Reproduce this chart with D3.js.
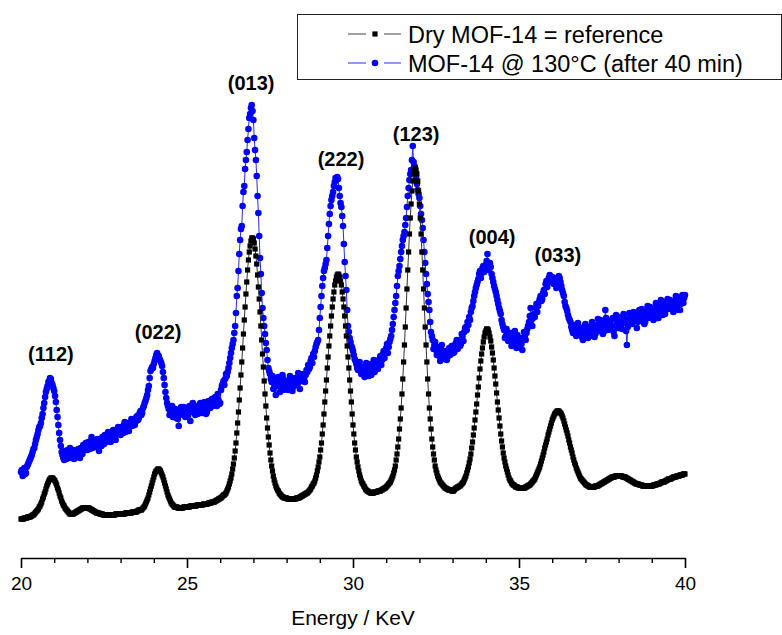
<!DOCTYPE html>
<html>
<head>
<meta charset="utf-8">
<script src="https://cdn.jsdelivr.net/npm/d3@7"></script>
<style>
  body { margin: 0; background: #fff; }
  svg { display: block; }
  text { font-family: "Liberation Sans", Arial, sans-serif; }
</style>
</head>
<body>
<div id="chart"></div>
<script>
// Energy grid of both scans (keV): one reading every 0.025 keV from 20 to 40
var energyStart = 20;
var energyStep = 0.025;

// Dry MOF-14 (reference), intensity a.u., 20 readings per row = 0.5 keV
var dryMof14 = [
  39, 39, 39, 39, 40, 40, 40, 40, 41, 41, 41, 41, 42, 42, 43, 43, 44, 45, 46, 47,
  48, 49, 51, 52, 54, 56, 59, 61, 64, 66, 69, 72, 74, 76, 78, 79, 80, 80, 80, 79,
  78, 77, 75, 73, 70, 68, 65, 62, 60, 57, 55, 53, 52, 50, 49, 48, 47, 46, 45, 44,
  44, 44, 44, 44, 45, 45, 46, 46, 47, 47, 48, 48, 49, 49, 50, 50, 50, 50, 50, 50,
  50, 50, 50, 49, 49, 48, 48, 47, 47, 46, 46, 45, 45, 45, 45, 44, 44, 44, 44, 43,
  43, 43, 43, 43, 43, 43, 43, 43, 43, 43, 43, 43, 43, 43, 44, 44, 44, 44, 44, 44,
  44, 44, 44, 44, 44, 44, 45, 45, 45, 45, 45, 45, 45, 45, 46, 46, 46, 46, 46, 46,
  47, 47, 48, 48, 48, 48, 49, 50, 51, 52, 54, 56, 58, 60, 63, 66, 69, 72, 75, 78,
  81, 84, 86, 87, 88, 89, 89, 88, 87, 85, 83, 81, 78, 75, 72, 69, 66, 63, 61, 59,
  57, 55, 54, 53, 52, 51, 51, 51, 51, 50, 50, 50, 50, 50, 50, 50, 51, 51, 51, 51,
  51, 51, 51, 51, 52, 52, 52, 52, 52, 52, 52, 52, 53, 53, 53, 53, 53, 53, 53, 53,
  54, 54, 54, 54, 54, 54, 55, 55, 55, 55, 56, 56, 56, 56, 57, 57, 58, 58, 59, 59,
  60, 60, 61, 62, 63, 63, 64, 65, 67, 69, 71, 74, 77, 80, 84, 89, 94, 100, 107, 115,
  125, 135, 146, 158, 170, 183, 196, 210, 224, 238, 251, 264, 276, 288, 298, 306, 312, 317, 320, 320,
  319, 315, 309, 302, 294, 283, 271, 259, 246, 232, 218, 204, 191, 177, 164, 152, 140, 130, 121, 113,
  105, 98, 92, 87, 82, 78, 75, 72, 70, 68, 67, 65, 64, 63, 62, 61, 61, 60, 60, 60,
  60, 59, 59, 59, 59, 59, 59, 59, 59, 59, 59, 59, 60, 60, 60, 60, 61, 61, 62, 62,
  63, 63, 64, 64, 65, 65, 66, 67, 68, 69, 71, 72, 74, 75, 77, 80, 83, 87, 91, 96,
  101, 108, 115, 124, 133, 144, 156, 167, 178, 190, 201, 212, 222, 232, 242, 251, 259, 266, 273, 277,
  281, 283, 284, 283, 281, 277, 273, 266, 259, 251, 242, 232, 222, 212, 201, 190, 178, 167, 156, 144,
  133, 124, 115, 108, 101, 96, 91, 87, 83, 80, 77, 75, 74, 72, 71, 69, 68, 67, 67, 66,
  66, 65, 65, 65, 65, 65, 66, 66, 66, 66, 67, 67, 67, 67, 68, 68, 69, 69, 70, 70,
  71, 72, 73, 74, 75, 76, 78, 80, 82, 85, 88, 92, 98, 104, 111, 119, 129, 139, 150, 164,
  179, 196, 213, 231, 250, 269, 288, 306, 324, 340, 354, 367, 377, 384, 388, 390, 388, 384, 377, 367,
  354, 340, 324, 306, 288, 269, 250, 231, 213, 196, 179, 164, 150, 139, 129, 119, 111, 104, 98, 92,
  88, 85, 82, 80, 78, 76, 75, 74, 73, 72, 71, 70, 70, 69, 69, 68, 68, 68, 68, 67,
  67, 67, 68, 69, 70, 70, 71, 71, 72, 72, 73, 74, 75, 76, 78, 80, 82, 85, 88, 91,
  95, 99, 104, 110, 116, 123, 130, 138, 146, 154, 163, 171, 180, 189, 197, 204, 210, 216, 221, 225,
  227, 229, 229, 228, 225, 221, 217, 211, 205, 198, 190, 182, 174, 165, 156, 148, 140, 132, 124, 117,
  111, 105, 100, 96, 92, 89, 86, 83, 80, 78, 77, 75, 74, 73, 73, 72, 71, 71, 71, 70,
  70, 70, 70, 70, 70, 70, 70, 70, 71, 71, 72, 72, 73, 73, 74, 75, 76, 77, 78, 79,
  81, 83, 85, 87, 89, 91, 94, 97, 100, 103, 106, 110, 113, 116, 119, 123, 126, 129, 132, 135,
  138, 140, 142, 144, 145, 146, 147, 147, 147, 146, 145, 144, 142, 140, 137, 134, 131, 128, 125, 122,
  118, 115, 111, 108, 105, 101, 98, 95, 93, 90, 88, 86, 84, 82, 80, 79, 78, 77, 76, 75,
  74, 73, 73, 72, 72, 71, 71, 71, 71, 71, 71, 71, 72, 72, 72, 72, 73, 73, 74, 74,
  75, 75, 76, 76, 77, 77, 78, 78, 79, 79, 80, 80, 81, 81, 81, 81, 82, 82, 82, 82,
  82, 82, 82, 82, 82, 81, 81, 81, 81, 80, 80, 79, 79, 78, 78, 77, 77, 76, 76, 75,
  75, 74, 74, 74, 74, 73, 73, 73, 73, 72, 72, 72, 72, 72, 72, 72, 72, 72, 72, 72,
  72, 72, 73, 73, 73, 73, 74, 74, 74, 74, 75, 75, 76, 76, 76, 76, 77, 77, 78, 78,
  79, 79, 79, 79, 80, 80, 81, 81, 81, 81, 82, 82, 82, 82, 83, 83, 83, 83, 84, 84,
  84
];

// MOF-14 at 130 °C after 40 min, same grid
var mof14At130 = [
  86, 88, 82, 87, 90, 84, 85, 91, 93, 95, 97, 99, 101, 103, 106, 109, 110, 114, 118, 121,
  124, 128, 131, 132, 135, 140, 144, 150, 155, 161, 166, 169, 172, 176, 177, 180, 179, 175, 173, 170,
  167, 162, 156, 148, 141, 133, 125, 118, 112, 106, 103, 100, 98, 107, 104, 99, 108, 103, 101, 110,
  106, 100, 103, 108, 99, 104, 107, 101, 102, 109, 105, 100, 110, 107, 104, 113, 112, 108, 115, 111,
  108, 116, 113, 109, 117, 121, 110, 114, 116, 111, 112, 118, 119, 113, 107, 117, 115, 112, 121, 118,
  114, 123, 120, 116, 118, 126, 124, 119, 116, 121, 122, 128, 127, 121, 118, 124, 125, 131, 130, 126,
  123, 131, 128, 125, 133, 136, 126, 130, 131, 135, 127, 133, 135, 139, 132, 137, 138, 133, 136, 141,
  142, 138, 140, 145, 147, 143, 145, 150, 152, 155, 157, 160, 163, 168, 172, 180, 187, 189, 191, 190,
  194, 197, 200, 203, 205, 201, 202, 199, 197, 195, 192, 186, 180, 173, 166, 160, 155, 152, 149, 143,
  146, 150, 152, 141, 143, 147, 149, 140, 145, 139, 132, 143, 148, 151, 144, 147, 151, 146, 141, 149,
  150, 143, 146, 152, 137, 146, 149, 155, 153, 145, 143, 150, 150, 144, 147, 153, 155, 149, 145, 152,
  151, 156, 148, 144, 146, 153, 157, 150, 150, 156, 159, 152, 153, 160, 161, 155, 152, 164, 158, 154,
  155, 168, 172, 174, 177, 173, 179, 184, 182, 186, 190, 195, 200, 205, 210, 214, 218, 225, 232, 245,
  262, 270, 287, 304, 318, 329, 332, 352, 366, 372, 389, 398, 406, 418, 429, 440, 444, 450, 453, 447,
  438, 420, 408, 398, 382, 362, 345, 322, 300, 284, 265, 250, 240, 232, 224, 215, 208, 198, 190, 187,
  184, 179, 176, 182, 169, 174, 178, 163, 172, 177, 181, 173, 166, 171, 175, 183, 179, 168, 170, 176,
  177, 172, 168, 175, 182, 178, 174, 167, 171, 176, 180, 174, 173, 179, 185, 176, 169, 181, 178, 183,
  184, 179, 176, 183, 188, 186, 193, 189, 191, 197, 200, 195, 204, 201, 207, 211, 214, 216, 218, 228,
  240, 251, 262, 272, 280, 287, 290, 294, 298, 310, 322, 334, 344, 352, 358, 362, 366, 372, 376, 380,
  378, 381, 379, 370, 362, 355, 351, 342, 332, 314, 296, 282, 268, 248, 232, 226, 220, 216, 212, 210,
  207, 203, 199, 197, 194, 190, 188, 193, 196, 189, 184, 187, 191, 185, 181, 188, 195, 191, 186, 182,
  190, 194, 183, 187, 192, 198, 186, 190, 197, 193, 189, 195, 199, 202, 193, 198, 204, 207, 200, 205,
  210, 214, 205, 211, 216, 219, 222, 228, 234, 241, 248, 255, 262, 272, 282, 287, 292, 299, 306, 312,
  318, 322, 326, 333, 340, 351, 362, 370, 378, 384, 388, 398, 412, 396, 392, 385, 380, 374, 368, 364,
  360, 352, 344, 338, 330, 318, 306, 295, 284, 274, 264, 256, 248, 236, 226, 222, 218, 209, 213, 216,
  208, 203, 211, 206, 202, 197, 209, 213, 205, 200, 199, 206, 207, 198, 201, 208, 210, 203, 204, 212,
  212, 205, 206, 213, 215, 218, 209, 214, 218, 212, 214, 224, 222, 217, 226, 230, 231, 228, 236, 233,
  241, 238, 246, 250, 252, 257, 262, 266, 270, 273, 276, 279, 284, 287, 280, 285, 290, 292, 286, 289,
  293, 297, 304, 294, 288, 295, 291, 284, 280, 276, 272, 269, 266, 262, 258, 254, 250, 247, 244, 238,
  234, 231, 228, 220, 222, 229, 226, 217, 218, 224, 225, 212, 214, 219, 221, 227, 216, 210, 223, 219,
  212, 216, 220, 214, 208, 218, 226, 221, 218, 225, 229, 232, 236, 242, 250, 238, 232, 240, 244, 241,
  250, 254, 246, 252, 256, 259, 262, 257, 259, 265, 268, 264, 274, 277, 271, 276, 280, 283, 276, 279,
  281, 277, 274, 280, 278, 270, 272, 279, 282, 280, 276, 272, 268, 265, 262, 256, 252, 250, 247, 243,
  240, 238, 236, 231, 228, 225, 233, 229, 226, 222, 231, 235, 224, 227, 230, 226, 221, 218, 228, 232,
  234, 229, 225, 220, 231, 227, 222, 229, 236, 233, 228, 221, 224, 230, 233, 239, 227, 232, 238, 235,
  230, 224, 226, 235, 248, 240, 233, 228, 229, 236, 237, 231, 232, 240, 226, 222, 239, 243, 234, 230,
  241, 236, 233, 238, 229, 235, 244, 240, 236, 227, 213, 231, 238, 245, 243, 237, 234, 241, 246, 240,
  239, 243, 230, 236, 244, 248, 237, 241, 249, 245, 241, 234, 236, 243, 247, 252, 240, 245, 251, 246,
  243, 249, 238, 244, 250, 255, 245, 240, 240, 247, 252, 258, 247, 243, 256, 251, 244, 249, 252, 259,
  249, 254, 258, 250, 251, 255, 246, 252, 257, 262, 253, 248, 261, 256, 248, 254, 258, 263, 255, 260,
  263
];

var seriesNames = ["Dry MOF-14 = reference", "MOF-14 @ 130°C (after 40 min)"];

// Reflection labels (hkl), with the energy / intensity where they sit
var peakLabels = ["(112)", "(022)", "(013)", "(222)", "(123)", "(004)", "(033)"];
var peakEnergy = [20.9, 24.13, 26.93, 29.64, 31.9, 34.19, 36.17];
var peakHeight = [197, 219, 468, 392, 417, 314, 296];

var majorTicks = [20, 25, 30, 35, 40];
var minorTicks = [21, 22, 23, 24, 26, 27, 28, 29, 31, 32, 33, 34, 36, 37, 38, 39];
var axisTitle = "Energy / KeV";

// Dimensions
var widthChart = 782;
var heightChart = 635;

var svgChart = d3
  .select("#chart")
  .append("svg")
  .attr("width", widthChart)
  .attr("height", heightChart);

// Scales
var x = d3.scaleLinear().domain([20, 40]).range([21, 685]);
var y = d3.scaleLinear().domain([0, 500]).range([558, 58]);

function toPoints(values) {
  return values.map(function (v, i) {
    return { e: energyStart + i * energyStep, v: v };
  });
}

var blueData = toPoints(mof14At130);
var blackData = toPoints(dryMof14);

var lineGen = d3
  .line()
  .x(function (d) { return x(d.e); })
  .y(function (d) { return y(d.v); });

// Heated sample: blue line + dots
svgChart
  .append("path")
  .datum(blueData)
  .attr("d", lineGen)
  .attr("fill", "none")
  .attr("stroke", "#2a2aff")
  .attr("stroke-width", 1);

svgChart
  .selectAll("blueDots")
  .data(blueData)
  .enter()
  .append("circle")
  .attr("cx", function (d) { return x(d.e); })
  .attr("cy", function (d) { return y(d.v); })
  .attr("r", 3.3)
  .attr("fill", "#0000ff");

// Dry reference: dark line + square markers (drawn on top)
svgChart
  .append("path")
  .datum(blackData)
  .attr("d", lineGen)
  .attr("fill", "none")
  .attr("stroke", "#333")
  .attr("stroke-width", 1);

svgChart
  .selectAll("blackSquares")
  .data(blackData)
  .enter()
  .append("rect")
  .attr("x", function (d) { return x(d.e) - 2.6; })
  .attr("y", function (d) { return y(d.v) - 2.6; })
  .attr("width", 5.2)
  .attr("height", 5.2)
  .attr("fill", "#000");

// hkl labels
svgChart
  .selectAll("peakLabels")
  .data(peakLabels)
  .enter()
  .append("text")
  .attr("x", function (d, i) { return x(peakEnergy[i]); })
  .attr("y", function (d, i) { return y(peakHeight[i]); })
  .attr("text-anchor", "middle")
  .style("font-size", "20px")
  .style("font-weight", "bold")
  .text(function (d) { return d; });

// Bottom axis: major ticks with labels, minor ticks without
var axisMajor = svgChart
  .append("g")
  .attr("transform", "translate(0," + y(0) + ")")
  .call(d3.axisBottom(x).tickValues(majorTicks).tickSize(10).tickSizeOuter(0).tickPadding(9));

axisMajor.select(".domain").attr("stroke", "#000").attr("stroke-width", 1.6);
axisMajor.selectAll(".tick line").attr("stroke", "#000").attr("stroke-width", 1.6);
axisMajor
  .selectAll(".tick text")
  .attr("fill", "#000")
  .style("font-size", "19px")
  .style("font-family", "'Liberation Sans', Arial, sans-serif");

var axisMinor = svgChart
  .append("g")
  .attr("transform", "translate(0," + y(0) + ")")
  .call(d3.axisBottom(x).tickValues(minorTicks).tickSize(5).tickSizeOuter(0).tickFormat(""));

axisMinor.select(".domain").remove();
axisMinor.selectAll(".tick line").attr("stroke", "#000").attr("stroke-width", 1.4);

// Axis title
svgChart
  .append("text")
  .attr("x", x(30))
  .attr("y", 625)
  .attr("text-anchor", "middle")
  .style("font-size", "21px")
  .text(axisTitle);

// Legend
var legend = svgChart.append("g");

legend
  .append("rect")
  .attr("x", 297.5)
  .attr("y", 14.5)
  .attr("width", 484)
  .attr("height", 65)
  .attr("fill", "#fff")
  .attr("stroke", "#222")
  .attr("stroke-width", 1);

var legendColors = ["#444", "#2a2aff"];
var legendRowY = [34, 63];

legend
  .selectAll("legendLeft")
  .data(seriesNames)
  .enter()
  .append("line")
  .attr("x1", 348)
  .attr("x2", 366)
  .attr("y1", function (d, i) { return legendRowY[i]; })
  .attr("y2", function (d, i) { return legendRowY[i]; })
  .attr("stroke", function (d, i) { return legendColors[i]; })
  .attr("stroke-width", 1);

legend
  .selectAll("legendRight")
  .data(seriesNames)
  .enter()
  .append("line")
  .attr("x1", 384)
  .attr("x2", 401)
  .attr("y1", function (d, i) { return legendRowY[i]; })
  .attr("y2", function (d, i) { return legendRowY[i]; })
  .attr("stroke", function (d, i) { return legendColors[i]; })
  .attr("stroke-width", 1);

legend
  .append("rect")
  .attr("x", 372.4)
  .attr("y", legendRowY[0] - 2.6)
  .attr("width", 5.2)
  .attr("height", 5.2)
  .attr("fill", "#000");

legend
  .append("circle")
  .attr("cx", 375)
  .attr("cy", legendRowY[1])
  .attr("r", 3.3)
  .attr("fill", "#0000ff");

legend
  .selectAll("legendText")
  .data(seriesNames)
  .enter()
  .append("text")
  .attr("x", 408)
  .attr("y", function (d, i) { return legendRowY[i] + 9; })
  .style("font-size", "23.5px")
  .text(function (d) { return d; });
</script>
</body>
</html>
